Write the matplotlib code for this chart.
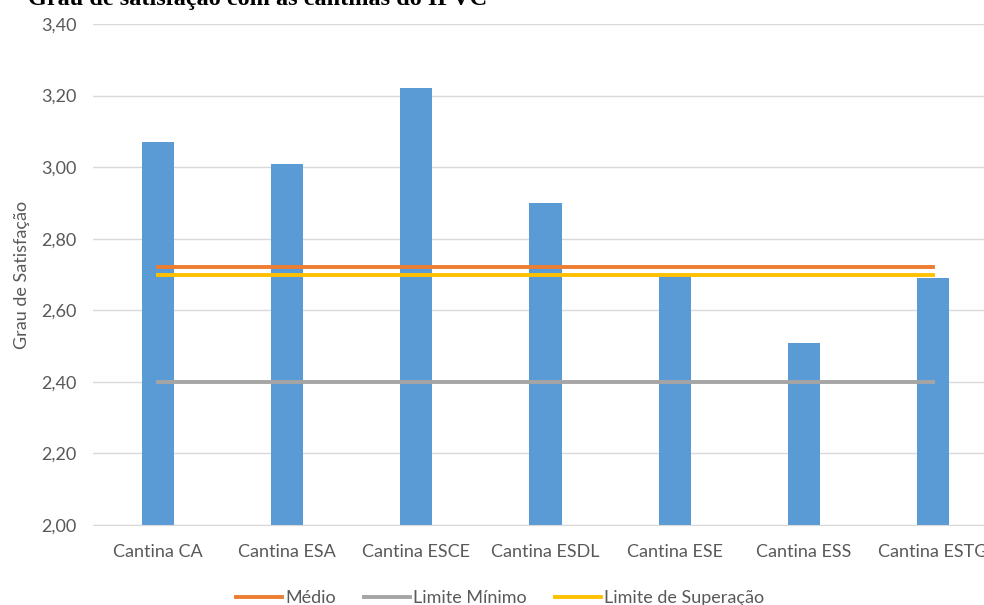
import numpy as np
import matplotlib
matplotlib.use("Agg")
import matplotlib.pyplot as plt

categorias = ["Cantina CA", "Cantina ESA", "Cantina ESCE", "Cantina ESDL",
              "Cantina ESE", "Cantina ESS", "Cantina ESTG"]
satisfacao = [3.07, 3.01, 3.22, 2.90, 2.70, 2.51, 2.69]
medio = [2.72] * 7
limite_minimo = [2.40] * 7
limite_superacao = [2.70] * 7
yticks = [2.0, 2.2, 2.4, 2.6, 2.8, 3.0, 3.2, 3.4]

plt.rcParams['font.family'] = ['Lato', 'DejaVu Sans']

fig = plt.figure(figsize=(9.84, 6.05), dpi=100)
ax = fig.add_axes([0.0949, 0.1322, 0.919, 0.8281])

x = np.arange(len(categorias))
ax.bar(x, satisfacao, width=0.25, color="#5b9bd5", zorder=2)
ax.plot(x, medio, color="#ed7d31", lw=2.8, label="Médio", zorder=3)
ax.plot(x, limite_minimo, color="#a5a5a5", lw=2.8, label="Limite Mínimo", zorder=3)
ax.plot(x, limite_superacao, color="#ffc000", lw=2.8, label="Limite de Superação", zorder=3)

ax.set_xlim(-0.5, len(categorias) - 0.5)
ax.set_ylim(2.0, 3.4)
ax.set_yticks(yticks)
ax.set_yticklabels([("%.2f" % v).replace(".", ",") for v in yticks])
ax.set_xticks(x)
ax.set_xticklabels(categorias)
ax.tick_params(axis="both", length=0, labelsize=13, colors="#595959")
ax.tick_params(axis="y", pad=12)
ax.tick_params(axis="x", pad=14)
ax.yaxis.grid(True, color="#d9d9d9", lw=1, zorder=0)
for s in ["left", "right", "top"]:
    ax.spines[s].set_visible(False)
ax.spines["bottom"].set_color("#d9d9d9")
ax.set_ylabel("Grau de Satisfação", fontsize=13, color="#595959", labelpad=8)

fig.text(28 / 984, 1 - 5 / 605, "Grau de satisfação com as cantinas do IPVC",
         family="Liberation Serif", fontweight="bold", fontsize=17.5,
         ha="left", va="baseline", color="black")

fig.legend(loc="center", bbox_to_anchor=(500 / 984, 1 - 598 / 605), ncol=3,
           frameon=False, fontsize=13, handlelength=2.55, handletextpad=0.17,
           columnspacing=1.55, labelcolor="#595959")

fig.savefig("out.png", dpi=100)
